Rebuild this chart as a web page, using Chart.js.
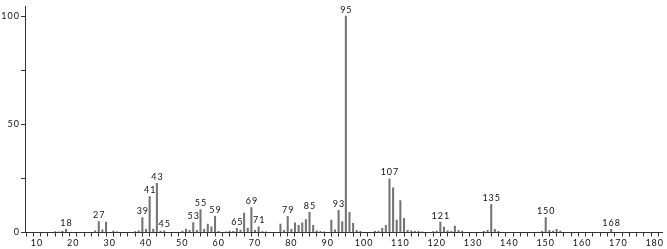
<!DOCTYPE html>
<html>
<head>
<meta charset="utf-8">
<script src="https://cdn.jsdelivr.net/npm/chart.js@4"></script>
<style>
  html, body { margin: 0; padding: 0; background: #fff; }
  #wrap { width: 667px; height: 249px; }
</style>
</head>
<body>
<div id="wrap"><canvas id="spectre"></canvas></div>
<script>
// m/z and relative intensity
const mz = [15,16,17,18,26,27,28,29,31,32,37,38,39,40,41,42,43,44,45,50,51,52,53,54,55,56,57,58,59,60,62,63,64,65,66,67,68,69,70,71,72,73,77,78,79,80,81,82,83,84,85,86,87,88,89,91,92,93,94,95,96,97,98,99,103,104,105,106,107,108,109,110,111,112,113,114,115,116,119,120,121,122,123,124,125,126,127,133,134,135,136,137,149,150,151,152,153,154,168];
const intensitat = [0.4,0.3,0.6,1.5,0.8,5.1,1.2,4.8,0.6,0.3,0.4,0.8,6.9,1.5,16.6,1.6,22.7,0.7,0.8,0.6,1.6,1.0,4.6,1.0,10.6,1.5,3.9,2.6,7.5,0.5,0.3,0.6,0.5,1.9,1.1,9.0,2.0,11.5,1.0,2.6,0.4,0.3,3.9,1.0,7.5,1.5,4.5,3.3,4.5,6.0,9.3,3.3,0.8,0.5,0.3,5.7,1.2,10.2,5.1,100,9.3,4.2,1.0,0.5,0.5,0.6,1.9,3.3,24.7,20.6,5.7,14.8,6.6,1.0,0.8,0.5,0.5,0.3,0.4,0.6,4.8,2.5,0.8,0.5,3.0,1.0,0.7,0.5,1.0,13.0,1.5,0.5,0.5,6.9,1.0,0.7,1.5,0.7,1.5];

// peaks that carry a label
const etiquetes = [18,27,39,41,43,45,53,55,59,65,69,71,79,85,93,95,107,121,135,150,168];

// axis ticks
const ticksY = [0, 25, 50, 75, 100];
const ticksX = [];
for (let v = 8; v <= 180; v += 2) ticksX.push(v);

const FONT = "Lato, 'DejaVu Sans', sans-serif";

// ---------- labels above peaks ----------
const pluginEtiquetes = {
  id: "etiquetes",
  beforeDraw(chart) {
    chart.ctx.letterSpacing = "1px";
  },
  afterDatasetsDraw(chart) {
    const ctx = chart.ctx;
    const x = chart.scales.x;
    const y = chart.scales.y;
    ctx.save();
    ctx.letterSpacing = "1px";
    ctx.font = "9px " + FONT;
    ctx.fillStyle = "#111";
    ctx.textAlign = "center";
    ctx.textBaseline = "bottom";
    etiquetes.forEach(m => {
      const i = mz.indexOf(m);
      if (i < 0) return;
      ctx.fillText(String(m), x.getPixelForValue(m) + 0.5, y.getPixelForValue(intensitat[i]) - 2);
    });
    ctx.restore();
  }
};

new Chart(document.getElementById("spectre"), {
  type: "bar",
  data: {
    datasets: [{
      data: mz.map((m, i) => ({ x: m, y: intensitat[i] })),
      backgroundColor: "#747474",
      barThickness: 1.4,
      borderWidth: 0
    }]
  },
  options: {
    responsive: true,
    maintainAspectRatio: false,
    animation: false,
    layout: { padding: { top: 3, right: 5, left: 0, bottom: 0 } },
    plugins: {
      legend: { display: false },
      tooltip: { enabled: false }
    },
    scales: {
      x: {
        type: "linear",
        min: 6.7,
        max: 182,
        offset: false,
        grid: {
          drawOnChartArea: false,
          drawTicks: true,
          tickLength: 4,
          color: "#333"
        },
        border: { color: "#333", width: 1 },
        afterBuildTicks: s => {
          s.ticks = ticksX.map(v => ({ value: v }));
        },
        afterFit: s => { s.height = 16.5; },
        ticks: {
          autoSkip: false,
          maxRotation: 0,
          padding: 1,
          color: "#111",
          font: { family: FONT, size: 9 },
          callback: v => (v % 10 === 0 ? String(v) : "")
        }
      },
      y: {
        min: 0,
        max: 104.5,
        grid: {
          drawOnChartArea: false,
          drawTicks: true,
          tickLength: 4,
          color: "#333"
        },
        border: { color: "#333", width: 1 },
        afterBuildTicks: s => {
          s.ticks = ticksY.map(v => ({ value: v }));
        },
        afterFit: s => { s.width = 25; },
        ticks: {
          padding: 1,
          color: "#111",
          font: { family: FONT, size: 9 },
          callback: v => (v % 50 === 0 ? String(v) : "")
        }
      }
    }
  },
  plugins: [pluginEtiquetes]
});
</script>
</body>
</html>
